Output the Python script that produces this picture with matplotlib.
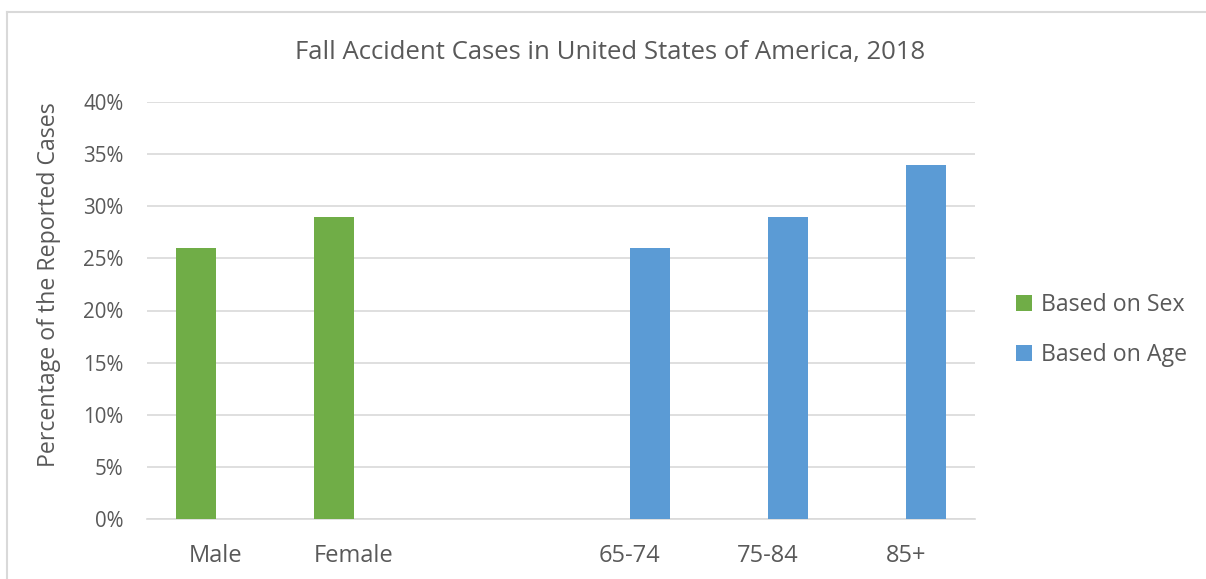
import numpy as np
import matplotlib
matplotlib.use('Agg')
import matplotlib.pyplot as plt
from matplotlib.lines import Line2D

# data (percent of reported cases)
categories = ['Male', 'Female', '', '65-74', '75-84', '85+']
sex_values = [26, 29, np.nan, np.nan, np.nan, np.nan]
age_values = [np.nan, np.nan, np.nan, 26, 29, 34]
y_ticks = [0, 5, 10, 15, 20, 25, 30, 35, 40]

green = '#70AD47'
blue = '#5B9BD5'
text_color = '#595959'
grid_color = '#D9D9D9'

plt.rcParams['font.family'] = ['Open Sans', 'DejaVu Sans']

W, H = 1206, 579
fig = plt.figure(figsize=(W / 100, H / 100), dpi=100)
ax = fig.add_axes([147 / W, 1 - 519 / H, (975 - 147) / W, (519 - 102) / H])

x = np.arange(len(categories))
bw = 0.29
ax.bar(x - bw / 2, sex_values, width=bw, color=green, label='Based on Sex', zorder=3)
ax.bar(x + bw / 2, age_values, width=bw, color=blue, label='Based on Age', zorder=3)

ax.set_xlim(-0.5, len(categories) - 0.5)
ax.set_ylim(0, 40)
ax.set_yticks(y_ticks)
ax.set_yticklabels([f'{t}%' for t in y_ticks])
ax.set_xticks(x)
ax.set_xticklabels(categories, fontsize=17)
ax.yaxis.grid(True, color=grid_color, linewidth=1.2, zorder=0)
ax.set_axisbelow(True)
for s in ['top', 'right', 'left']:
    ax.spines[s].set_visible(False)
ax.spines['bottom'].set_color(grid_color)
ax.spines['bottom'].set_linewidth(1.2)
ax.tick_params(axis='both', length=0, colors=text_color)
ax.tick_params(axis='y', labelsize=14.8, pad=17)
ax.tick_params(axis='x', pad=18)

ax.set_ylabel('Percentage of the Reported Cases', fontsize=16.7, color=text_color)
ax.yaxis.set_label_coords(-86 / 828, (519 - 285) / 417)
fig.text(610 / W, 1 - 53 / H, 'Fall Accident Cases in United States of America, 2018',
         ha='center', va='center', fontsize=18.5, color=text_color)

leg = fig.legend(loc='center left', bbox_to_anchor=(995 / W, 1 - 330 / H),
                 frameon=False, fontsize=16.7, handlelength=0.7, handleheight=0.7,
                 handletextpad=0.4, labelspacing=1.1, labelcolor=text_color)

# outer chart frame (only top and left edges visible)
fig.add_artist(Line2D([7 / W, 1], [1 - 12 / H, 1 - 12 / H], color='#D9D9D9', linewidth=1.5))
fig.add_artist(Line2D([7 / W, 7 / W], [0, 1 - 12 / H], color='#D9D9D9', linewidth=1.5))

fig.savefig('out.png', dpi=100, facecolor='white')
